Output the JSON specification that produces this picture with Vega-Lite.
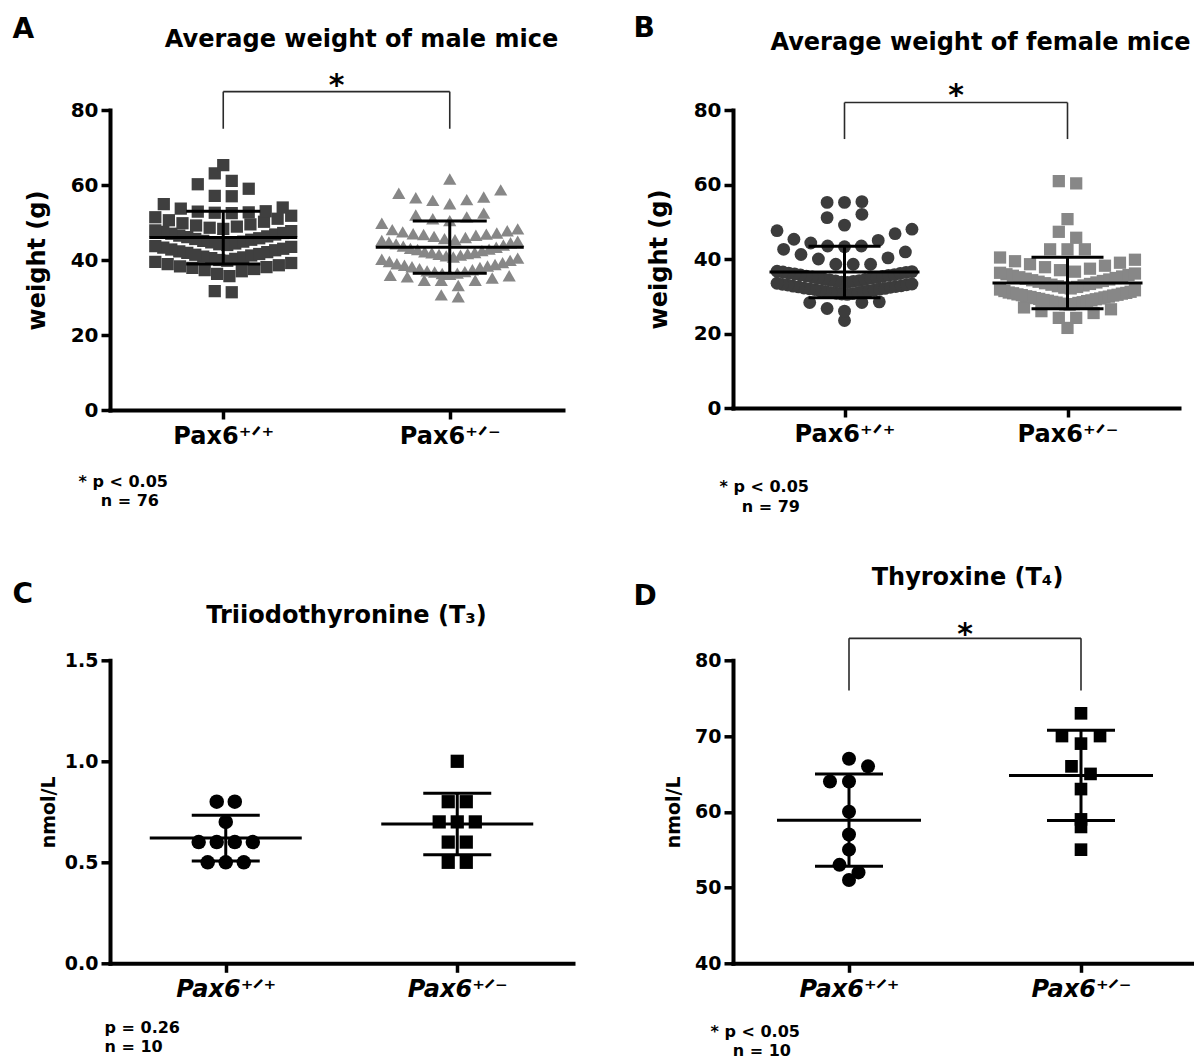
{
  "$schema": "https://vega.github.io/schema/vega-lite/v6.json",
  "background": "white",
  "padding": {"left": 12, "top": 14, "right": 0, "bottom": 0},
  "config": {
    "view": {"stroke": null},
    "font": "DejaVu Sans",
    "axis": {"labelFont": "DejaVu Sans", "titleFont": "DejaVu Sans", "labelColor": "#000", "titleColor": "#000", "domainColor": "#000", "tickColor": "#000", "grid": false, "labelFontWeight": "bold", "titleFontWeight": "bold", "labelFlush": false, "labelBound": false}
  },
  "datasets": {
    "A": [
      {"genotype":"Pax6+/+","value":31.4},{"genotype":"Pax6+/+","value":31.7},{"genotype":"Pax6+/+","value":35.7},{"genotype":"Pax6+/+","value":36.3},
      {"genotype":"Pax6+/+","value":37.0},{"genotype":"Pax6+/+","value":37.3},{"genotype":"Pax6+/+","value":37.6},{"genotype":"Pax6+/+","value":37.9},{"genotype":"Pax6+/+","value":38.1},{"genotype":"Pax6+/+","value":38.3},{"genotype":"Pax6+/+","value":38.6},{"genotype":"Pax6+/+","value":38.9},{"genotype":"Pax6+/+","value":39.2},{"genotype":"Pax6+/+","value":39.5},
      {"genotype":"Pax6+/+","value":39.8},{"genotype":"Pax6+/+","value":40.0},{"genotype":"Pax6+/+","value":40.3},{"genotype":"Pax6+/+","value":40.5},{"genotype":"Pax6+/+","value":40.7},{"genotype":"Pax6+/+","value":40.9},{"genotype":"Pax6+/+","value":41.2},{"genotype":"Pax6+/+","value":41.4},{"genotype":"Pax6+/+","value":41.6},{"genotype":"Pax6+/+","value":41.9},{"genotype":"Pax6+/+","value":42.1},{"genotype":"Pax6+/+","value":42.3},{"genotype":"Pax6+/+","value":42.6},{"genotype":"Pax6+/+","value":42.8},{"genotype":"Pax6+/+","value":43.0},{"genotype":"Pax6+/+","value":43.3},{"genotype":"Pax6+/+","value":43.5},{"genotype":"Pax6+/+","value":43.7},
      {"genotype":"Pax6+/+","value":44.0},{"genotype":"Pax6+/+","value":44.2},{"genotype":"Pax6+/+","value":44.4},{"genotype":"Pax6+/+","value":44.7},{"genotype":"Pax6+/+","value":44.9},{"genotype":"Pax6+/+","value":45.1},{"genotype":"Pax6+/+","value":45.4},{"genotype":"Pax6+/+","value":45.6},{"genotype":"Pax6+/+","value":45.8},{"genotype":"Pax6+/+","value":46.1},{"genotype":"Pax6+/+","value":46.3},{"genotype":"Pax6+/+","value":46.5},{"genotype":"Pax6+/+","value":46.8},{"genotype":"Pax6+/+","value":47.0},{"genotype":"Pax6+/+","value":47.2},{"genotype":"Pax6+/+","value":47.5},{"genotype":"Pax6+/+","value":47.7},{"genotype":"Pax6+/+","value":47.9},
      {"genotype":"Pax6+/+","value":48.3},{"genotype":"Pax6+/+","value":48.6},{"genotype":"Pax6+/+","value":48.9},{"genotype":"Pax6+/+","value":49.2},{"genotype":"Pax6+/+","value":49.5},{"genotype":"Pax6+/+","value":49.8},{"genotype":"Pax6+/+","value":50.2},{"genotype":"Pax6+/+","value":50.6},{"genotype":"Pax6+/+","value":51.0},{"genotype":"Pax6+/+","value":51.4},{"genotype":"Pax6+/+","value":51.8},
      {"genotype":"Pax6+/+","value":52.5},{"genotype":"Pax6+/+","value":52.6},{"genotype":"Pax6+/+","value":52.7},{"genotype":"Pax6+/+","value":52.9},{"genotype":"Pax6+/+","value":53.0},{"genotype":"Pax6+/+","value":53.7},{"genotype":"Pax6+/+","value":54.0},{"genotype":"Pax6+/+","value":54.9},
      {"genotype":"Pax6+/+","value":57.0},{"genotype":"Pax6+/+","value":57.1},{"genotype":"Pax6+/+","value":59.0},{"genotype":"Pax6+/+","value":60.2},{"genotype":"Pax6+/+","value":61.1},{"genotype":"Pax6+/+","value":63.1},{"genotype":"Pax6+/+","value":65.3},
      {"genotype":"Pax6+/-","value":30.2},{"genotype":"Pax6+/-","value":30.7},{"genotype":"Pax6+/-","value":33.2},{"genotype":"Pax6+/-","value":34.6},{"genotype":"Pax6+/-","value":34.6},{"genotype":"Pax6+/-","value":34.6},{"genotype":"Pax6+/-","value":35.2},{"genotype":"Pax6+/-","value":35.8},{"genotype":"Pax6+/-","value":36.4},{"genotype":"Pax6+/-","value":35.5},
      {"genotype":"Pax6+/-","value":35.9},{"genotype":"Pax6+/-","value":36.2},{"genotype":"Pax6+/-","value":36.5},{"genotype":"Pax6+/-","value":36.8},{"genotype":"Pax6+/-","value":37.1},{"genotype":"Pax6+/-","value":37.4},{"genotype":"Pax6+/-","value":37.7},{"genotype":"Pax6+/-","value":38.0},{"genotype":"Pax6+/-","value":38.2},{"genotype":"Pax6+/-","value":38.4},{"genotype":"Pax6+/-","value":38.6},{"genotype":"Pax6+/-","value":38.8},{"genotype":"Pax6+/-","value":36.9},
      {"genotype":"Pax6+/-","value":39.0},{"genotype":"Pax6+/-","value":39.3},{"genotype":"Pax6+/-","value":39.6},{"genotype":"Pax6+/-","value":39.9},{"genotype":"Pax6+/-","value":40.2},{"genotype":"Pax6+/-","value":40.5},{"genotype":"Pax6+/-","value":40.8},{"genotype":"Pax6+/-","value":41.1},{"genotype":"Pax6+/-","value":41.3},{"genotype":"Pax6+/-","value":41.5},{"genotype":"Pax6+/-","value":41.7},{"genotype":"Pax6+/-","value":41.9},{"genotype":"Pax6+/-","value":42.0},
      {"genotype":"Pax6+/-","value":42.2},{"genotype":"Pax6+/-","value":42.5},{"genotype":"Pax6+/-","value":42.8},{"genotype":"Pax6+/-","value":43.1},{"genotype":"Pax6+/-","value":43.4},{"genotype":"Pax6+/-","value":43.7},{"genotype":"Pax6+/-","value":44.0},{"genotype":"Pax6+/-","value":44.3},{"genotype":"Pax6+/-","value":44.6},{"genotype":"Pax6+/-","value":44.8},{"genotype":"Pax6+/-","value":45.0},{"genotype":"Pax6+/-","value":45.2},{"genotype":"Pax6+/-","value":42.9},
      {"genotype":"Pax6+/-","value":45.4},{"genotype":"Pax6+/-","value":45.7},{"genotype":"Pax6+/-","value":46.0},{"genotype":"Pax6+/-","value":46.3},{"genotype":"Pax6+/-","value":46.6},{"genotype":"Pax6+/-","value":46.9},{"genotype":"Pax6+/-","value":47.2},{"genotype":"Pax6+/-","value":47.5},{"genotype":"Pax6+/-","value":47.8},{"genotype":"Pax6+/-","value":48.1},{"genotype":"Pax6+/-","value":48.3},{"genotype":"Pax6+/-","value":46.8},{"genotype":"Pax6+/-","value":47.0},
      {"genotype":"Pax6+/-","value":49.8},{"genotype":"Pax6+/-","value":50.5},{"genotype":"Pax6+/-","value":51.0},{"genotype":"Pax6+/-","value":52.0},{"genotype":"Pax6+/-","value":52.5},{"genotype":"Pax6+/-","value":51.5},
      {"genotype":"Pax6+/-","value":55.0},{"genotype":"Pax6+/-","value":55.9},{"genotype":"Pax6+/-","value":56.1},{"genotype":"Pax6+/-","value":56.6},{"genotype":"Pax6+/-","value":56.8},{"genotype":"Pax6+/-","value":57.8},{"genotype":"Pax6+/-","value":58.7},{"genotype":"Pax6+/-","value":61.6}
    ],
    "B": [
      {"genotype":"Pax6+/+","value":23.5},{"genotype":"Pax6+/+","value":26.0},{"genotype":"Pax6+/+","value":26.7},{"genotype":"Pax6+/+","value":28.3},{"genotype":"Pax6+/+","value":28.3},{"genotype":"Pax6+/+","value":28.5},
      {"genotype":"Pax6+/+","value":30.5},{"genotype":"Pax6+/+","value":30.6},{"genotype":"Pax6+/+","value":30.7},{"genotype":"Pax6+/+","value":30.8},{"genotype":"Pax6+/+","value":30.9},{"genotype":"Pax6+/+","value":31.0},{"genotype":"Pax6+/+","value":31.2},{"genotype":"Pax6+/+","value":31.3},{"genotype":"Pax6+/+","value":31.4},{"genotype":"Pax6+/+","value":31.5},{"genotype":"Pax6+/+","value":31.6},{"genotype":"Pax6+/+","value":31.8},{"genotype":"Pax6+/+","value":31.9},
      {"genotype":"Pax6+/+","value":32.0},{"genotype":"Pax6+/+","value":32.1},{"genotype":"Pax6+/+","value":32.2},{"genotype":"Pax6+/+","value":32.4},{"genotype":"Pax6+/+","value":32.5},{"genotype":"Pax6+/+","value":32.6},{"genotype":"Pax6+/+","value":32.7},{"genotype":"Pax6+/+","value":32.8},{"genotype":"Pax6+/+","value":33.0},{"genotype":"Pax6+/+","value":33.1},{"genotype":"Pax6+/+","value":33.2},{"genotype":"Pax6+/+","value":33.3},{"genotype":"Pax6+/+","value":33.5},
      {"genotype":"Pax6+/+","value":33.7},{"genotype":"Pax6+/+","value":33.8},{"genotype":"Pax6+/+","value":34.0},{"genotype":"Pax6+/+","value":34.1},{"genotype":"Pax6+/+","value":34.2},{"genotype":"Pax6+/+","value":34.4},{"genotype":"Pax6+/+","value":34.5},{"genotype":"Pax6+/+","value":34.6},{"genotype":"Pax6+/+","value":34.8},{"genotype":"Pax6+/+","value":34.9},{"genotype":"Pax6+/+","value":35.0},{"genotype":"Pax6+/+","value":35.2},
      {"genotype":"Pax6+/+","value":35.3},{"genotype":"Pax6+/+","value":35.4},{"genotype":"Pax6+/+","value":35.6},{"genotype":"Pax6+/+","value":35.7},{"genotype":"Pax6+/+","value":35.8},{"genotype":"Pax6+/+","value":36.0},{"genotype":"Pax6+/+","value":36.1},{"genotype":"Pax6+/+","value":36.2},{"genotype":"Pax6+/+","value":36.4},{"genotype":"Pax6+/+","value":36.5},{"genotype":"Pax6+/+","value":36.6},{"genotype":"Pax6+/+","value":36.7},
      {"genotype":"Pax6+/+","value":38.6},{"genotype":"Pax6+/+","value":38.6},{"genotype":"Pax6+/+","value":38.6},{"genotype":"Pax6+/+","value":40.0},{"genotype":"Pax6+/+","value":40.3},{"genotype":"Pax6+/+","value":41.2},{"genotype":"Pax6+/+","value":41.9},{"genotype":"Pax6+/+","value":42.6},{"genotype":"Pax6+/+","value":43.3},{"genotype":"Pax6+/+","value":43.5},{"genotype":"Pax6+/+","value":43.5},{"genotype":"Pax6+/+","value":44.3},
      {"genotype":"Pax6+/+","value":45.0},{"genotype":"Pax6+/+","value":45.3},{"genotype":"Pax6+/+","value":46.8},{"genotype":"Pax6+/+","value":47.6},{"genotype":"Pax6+/+","value":48.0},{"genotype":"Pax6+/+","value":49.1},{"genotype":"Pax6+/+","value":51.1},{"genotype":"Pax6+/+","value":52.0},{"genotype":"Pax6+/+","value":55.2},{"genotype":"Pax6+/+","value":55.2},{"genotype":"Pax6+/+","value":55.4},
      {"genotype":"Pax6+/-","value":21.5},{"genotype":"Pax6+/-","value":24.2},{"genotype":"Pax6+/-","value":24.2},{"genotype":"Pax6+/-","value":25.5},{"genotype":"Pax6+/-","value":26.0},{"genotype":"Pax6+/-","value":26.5},{"genotype":"Pax6+/-","value":27.0},
      {"genotype":"Pax6+/-","value":27.7},{"genotype":"Pax6+/-","value":27.8},{"genotype":"Pax6+/-","value":27.9},{"genotype":"Pax6+/-","value":28.0},{"genotype":"Pax6+/-","value":28.2},{"genotype":"Pax6+/-","value":28.3},{"genotype":"Pax6+/-","value":28.4},{"genotype":"Pax6+/-","value":28.5},{"genotype":"Pax6+/-","value":28.7},{"genotype":"Pax6+/-","value":28.8},{"genotype":"Pax6+/-","value":28.9},{"genotype":"Pax6+/-","value":29.0},{"genotype":"Pax6+/-","value":29.2},{"genotype":"Pax6+/-","value":29.3},{"genotype":"Pax6+/-","value":29.4},{"genotype":"Pax6+/-","value":29.5},
      {"genotype":"Pax6+/-","value":29.7},{"genotype":"Pax6+/-","value":29.8},{"genotype":"Pax6+/-","value":29.9},{"genotype":"Pax6+/-","value":30.0},{"genotype":"Pax6+/-","value":30.2},{"genotype":"Pax6+/-","value":30.3},{"genotype":"Pax6+/-","value":30.4},{"genotype":"Pax6+/-","value":30.5},{"genotype":"Pax6+/-","value":30.7},{"genotype":"Pax6+/-","value":30.8},{"genotype":"Pax6+/-","value":30.9},{"genotype":"Pax6+/-","value":31.0},{"genotype":"Pax6+/-","value":31.2},{"genotype":"Pax6+/-","value":31.4},{"genotype":"Pax6+/-","value":31.6},{"genotype":"Pax6+/-","value":31.8},
      {"genotype":"Pax6+/-","value":32.1},{"genotype":"Pax6+/-","value":32.3},{"genotype":"Pax6+/-","value":32.5},{"genotype":"Pax6+/-","value":32.7},{"genotype":"Pax6+/-","value":32.9},{"genotype":"Pax6+/-","value":33.1},{"genotype":"Pax6+/-","value":33.3},{"genotype":"Pax6+/-","value":33.5},{"genotype":"Pax6+/-","value":33.7},{"genotype":"Pax6+/-","value":33.9},{"genotype":"Pax6+/-","value":34.1},
      {"genotype":"Pax6+/-","value":34.3},{"genotype":"Pax6+/-","value":34.5},{"genotype":"Pax6+/-","value":34.7},{"genotype":"Pax6+/-","value":34.9},{"genotype":"Pax6+/-","value":35.1},{"genotype":"Pax6+/-","value":35.3},{"genotype":"Pax6+/-","value":35.5},{"genotype":"Pax6+/-","value":35.7},{"genotype":"Pax6+/-","value":35.9},{"genotype":"Pax6+/-","value":36.1},{"genotype":"Pax6+/-","value":36.3},
      {"genotype":"Pax6+/-","value":36.6},{"genotype":"Pax6+/-","value":37.0},{"genotype":"Pax6+/-","value":37.4},{"genotype":"Pax6+/-","value":37.8},{"genotype":"Pax6+/-","value":38.2},{"genotype":"Pax6+/-","value":38.6},{"genotype":"Pax6+/-","value":39.0},{"genotype":"Pax6+/-","value":39.4},{"genotype":"Pax6+/-","value":39.8},{"genotype":"Pax6+/-","value":40.4},
      {"genotype":"Pax6+/-","value":42.6},{"genotype":"Pax6+/-","value":42.6},{"genotype":"Pax6+/-","value":42.6},{"genotype":"Pax6+/-","value":45.7},{"genotype":"Pax6+/-","value":47.3},{"genotype":"Pax6+/-","value":50.7},{"genotype":"Pax6+/-","value":60.3},{"genotype":"Pax6+/-","value":60.9}
    ],
    "C": [
      {"genotype":"Pax6+/+","value":0.8},{"genotype":"Pax6+/+","value":0.8},{"genotype":"Pax6+/+","value":0.7},{"genotype":"Pax6+/+","value":0.6},{"genotype":"Pax6+/+","value":0.6},{"genotype":"Pax6+/+","value":0.6},{"genotype":"Pax6+/+","value":0.6},{"genotype":"Pax6+/+","value":0.5},{"genotype":"Pax6+/+","value":0.5},{"genotype":"Pax6+/+","value":0.5},
      {"genotype":"Pax6+/-","value":1.0},{"genotype":"Pax6+/-","value":0.8},{"genotype":"Pax6+/-","value":0.8},{"genotype":"Pax6+/-","value":0.7},{"genotype":"Pax6+/-","value":0.7},{"genotype":"Pax6+/-","value":0.7},{"genotype":"Pax6+/-","value":0.6},{"genotype":"Pax6+/-","value":0.6},{"genotype":"Pax6+/-","value":0.5},{"genotype":"Pax6+/-","value":0.5}
    ],
    "D": [
      {"genotype":"Pax6+/+","value":67},{"genotype":"Pax6+/+","value":66},{"genotype":"Pax6+/+","value":64},{"genotype":"Pax6+/+","value":64},{"genotype":"Pax6+/+","value":60},{"genotype":"Pax6+/+","value":57},{"genotype":"Pax6+/+","value":55},{"genotype":"Pax6+/+","value":53},{"genotype":"Pax6+/+","value":52},{"genotype":"Pax6+/+","value":51},
      {"genotype":"Pax6+/-","value":73},{"genotype":"Pax6+/-","value":70},{"genotype":"Pax6+/-","value":70},{"genotype":"Pax6+/-","value":69},{"genotype":"Pax6+/-","value":66},{"genotype":"Pax6+/-","value":65},{"genotype":"Pax6+/-","value":63},{"genotype":"Pax6+/-","value":59},{"genotype":"Pax6+/-","value":58},{"genotype":"Pax6+/-","value":55}
    ]
  },
  "columns": 2,
  "spacing": {"row": 250.3, "column": 160},
  "bounds": "flush",
  "resolve": {"scale": {"shape": "independent", "color": "independent", "size": "independent"}},
  "concat": [
    {
      "width": 453, "height": 300,
      "data": {"name": "A"},
      "layer": [
        {
          "transform": [
            {"calculate": "datum.genotype === 'Pax6+/+' ? 1 : 2", "as": "g"},
            {"calculate": "round((datum.value + (datum.g === 1 ? 0.2 : -1.7)) / (datum.g === 1 ? 4.2 : 4.6))", "as": "row"},
            {"joinaggregate": [{"op": "count", "as": "n"}], "groupby": ["g", "row"]},
            {"window": [{"op": "row_number", "as": "r"}], "sort": [{"field": "value", "order": "ascending"}], "groupby": ["g", "row"]},
            {"calculate": "(datum.r % 2 === 0 ? -1 : 1) * (datum.n % 2 === 1 ? floor(datum.r / 2) : floor((datum.r - 1) / 2) + 0.5)", "as": "slot"},
            {"calculate": "datum.g + datum.slot * (datum.n > 1 ? min(0.075, 0.6 / (datum.n - 1)) : 0)", "as": "xpos"}
          ],
          "mark": {"type": "point", "filled": true, "opacity": 1, "strokeWidth": 0},
          "encoding": {
            "x": {"field": "xpos", "type": "quantitative", "scale": {"domain": [0.5, 2.5], "nice": false, "zero": false},
              "axis": {"orient": "bottom", "values": [1, 2], "labelExpr": "datum.value === 1 ? 'Pax6⁺ᐟ⁺' : 'Pax6⁺ᐟ⁻'", "labelFontSize": 24, "labelPadding": 5, "tickSize": 9, "tickWidth": 3.5, "domainWidth": 4, "domainCap": "square",
                "title": ["* p < 0.05", "\u200b\u00a0\u00a0\u00a0\u00a0n = 76"], "titleFontSize": 16, "titleAlign": "left", "titleBaseline": "alphabetic", "titleX": -32, "titleY": 76, "titleLineHeight": 19}},
            "y": {"field": "value", "type": "quantitative", "scale": {"domain": [0, 80], "nice": false, "zero": false},
              "axis": {"orient": "left", "values": [0, 20, 40, 60, 80], "labelFontSize": 20, "labelPadding": 3, "tickSize": 9, "tickWidth": 3.5, "domainWidth": 4, "domainCap": "square",
                "title": "weight (g)", "titleFontSize": 24, "titleAngle": 270, "titleAlign": "center", "titleBaseline": "bottom", "titleX": -61, "titleY": 150}},
            "shape": {"field": "genotype", "type": "nominal", "scale": {"domain": ["Pax6+/+", "Pax6+/-"], "range": ["square", "triangle-up"]}, "legend": null},
            "color": {"field": "genotype", "type": "nominal", "scale": {"domain": ["Pax6+/+", "Pax6+/-"], "range": ["#3f3f3f", "#878787"]}, "legend": null},
            "size": {"field": "genotype", "type": "nominal", "scale": {"domain": ["Pax6+/+", "Pax6+/-"], "range": [150, 175]}, "legend": null}
          }
        },
        {
          "layer": [
            {
              "transform": [
                {"aggregate": [{"op": "mean", "field": "value", "as": "m"}, {"op": "stdev", "field": "value", "as": "sd"}], "groupby": ["genotype"]},
                {"calculate": "datum.genotype === 'Pax6+/+' ? 1 : 2", "as": "g"},
                {"calculate": "datum.m - datum.sd", "as": "lo"},
                {"calculate": "datum.m + datum.sd", "as": "hi"}
              ],
              "layer": [
                {"mark": {"type": "rule", "strokeWidth": 3, "color": "black"},
                  "encoding": {
                    "x": {"field": "g", "type": "quantitative", "scale": {"domain": [0.5, 2.5], "nice": false, "zero": false},
                      "axis": {"orient": "top", "domain": false, "ticks": false, "labels": false, "title": "Average weight of male mice", "titleFontSize": 24, "titleAlign": "center", "titleBaseline": "alphabetic", "titleX": 251, "titleY": -63.7}},
                    "y": {"field": "lo", "type": "quantitative", "scale": {"domain": [0, 80], "nice": false, "zero": false},
                      "axis": {"orient": "right", "domain": false, "ticks": false, "labels": false, "title": "A", "titleFontSize": 28, "titleAngle": 0, "titleAlign": "left", "titleBaseline": "alphabetic", "titleX": -551, "titleY": -72.7}},
                    "y2": {"field": "hi"}
                  }},
                {"mark": {"type": "tick", "orient": "horizontal", "size": 148, "thickness": 3, "color": "black", "opacity": 1},
                  "encoding": {"x": {"field": "g", "type": "quantitative"}, "y": {"field": "m", "type": "quantitative"}}},
                {"mark": {"type": "tick", "orient": "horizontal", "size": 74, "thickness": 3, "color": "black", "opacity": 1},
                  "encoding": {"x": {"field": "g", "type": "quantitative"}, "y": {"field": "lo", "type": "quantitative"}}},
                {"mark": {"type": "tick", "orient": "horizontal", "size": 74, "thickness": 3, "color": "black", "opacity": 1},
                  "encoding": {"x": {"field": "g", "type": "quantitative"}, "y": {"field": "hi", "type": "quantitative"}}}
              ]
            },
            {"data": {"values": [{}]}, "mark": {"type": "rule", "strokeWidth": 1.6, "color": "#2a2a2a"},
              "encoding": {"x": {"datum": 1, "type": "quantitative"}, "x2": {"datum": 2}, "y": {"datum": 84.9, "type": "quantitative"}}},
            {"data": {"values": [{}]}, "mark": {"type": "rule", "strokeWidth": 1.6, "color": "#2a2a2a"},
              "encoding": {"x": {"datum": 1, "type": "quantitative"}, "y": {"datum": 75.0, "type": "quantitative"}, "y2": {"datum": 84.9}}},
            {"data": {"values": [{}]}, "mark": {"type": "rule", "strokeWidth": 1.6, "color": "#2a2a2a"},
              "encoding": {"x": {"datum": 2, "type": "quantitative"}, "y": {"datum": 75.0, "type": "quantitative"}, "y2": {"datum": 84.9}}},
            {"data": {"values": [{}]}, "mark": {"type": "text", "text": "*", "font": "DejaVu Sans", "fontSize": 30, "fontWeight": "bold", "align": "center", "baseline": "alphabetic", "color": "black"},
              "encoding": {"x": {"datum": 1.5, "type": "quantitative"}, "y": {"datum": 84.0, "type": "quantitative"}}}
          ]
        }
      ],
      "resolve": {"scale": {"x": "independent", "y": "independent"}}
    },
    {
      "width": 446, "height": 298,
      "data": {"name": "B"},
      "layer": [
        {
          "transform": [
            {"calculate": "datum.genotype === 'Pax6+/+' ? 1 : 2", "as": "g"},
            {"calculate": "round((datum.value + (datum.g === 1 ? 2.3 : 1)) / (datum.g === 1 ? 4.8 : 4.4))", "as": "row"},
            {"joinaggregate": [{"op": "count", "as": "n"}], "groupby": ["g", "row"]},
            {"window": [{"op": "row_number", "as": "r"}], "sort": [{"field": "value", "order": "ascending"}], "groupby": ["g", "row"]},
            {"calculate": "(datum.r % 2 === 0 ? -1 : 1) * (datum.n % 2 === 1 ? floor(datum.r / 2) : floor((datum.r - 1) / 2) + 0.5)", "as": "slot"},
            {"calculate": "datum.g + datum.slot * (datum.n > 1 ? min(0.078, 0.605 / (datum.n - 1)) : 0)", "as": "xpos"}
          ],
          "mark": {"type": "point", "filled": true, "opacity": 1, "strokeWidth": 0},
          "encoding": {
            "x": {"field": "xpos", "type": "quantitative", "scale": {"domain": [0.5, 2.5], "nice": false, "zero": false},
              "axis": {"orient": "bottom", "values": [1, 2], "labelExpr": "datum.value === 1 ? 'Pax6⁺ᐟ⁺' : 'Pax6⁺ᐟ⁻'", "labelFontSize": 24, "labelPadding": 5, "tickSize": 9, "tickWidth": 3.5, "domainWidth": 4, "domainCap": "square",
                "title": ["* p < 0.05", "\u200b\u00a0\u00a0\u00a0\u00a0n = 79"], "titleFontSize": 16, "titleAlign": "left", "titleBaseline": "alphabetic", "titleX": -14, "titleY": 83.3, "titleLineHeight": 20}},
            "y": {"field": "value", "type": "quantitative", "scale": {"domain": [0, 80], "nice": false, "zero": false},
              "axis": {"orient": "left", "values": [0, 20, 40, 60, 80], "labelFontSize": 20, "labelPadding": 3, "tickSize": 9, "tickWidth": 3.5, "domainWidth": 4, "domainCap": "square",
                "title": "weight (g)", "titleFontSize": 24, "titleAngle": 270, "titleAlign": "center", "titleBaseline": "bottom", "titleX": -62, "titleY": 149}},
            "shape": {"field": "genotype", "type": "nominal", "scale": {"domain": ["Pax6+/+", "Pax6+/-"], "range": ["circle", "square"]}, "legend": null},
            "color": {"field": "genotype", "type": "nominal", "scale": {"domain": ["Pax6+/+", "Pax6+/-"], "range": ["#3c3c3c", "#878787"]}, "legend": null},
            "size": {"field": "genotype", "type": "nominal", "scale": {"domain": ["Pax6+/+", "Pax6+/-"], "range": [165, 150]}, "legend": null}
          }
        },
        {
          "layer": [
            {
              "transform": [
                {"aggregate": [{"op": "mean", "field": "value", "as": "m"}, {"op": "stdev", "field": "value", "as": "sd"}], "groupby": ["genotype"]},
                {"calculate": "datum.genotype === 'Pax6+/+' ? 1 : 2", "as": "g"},
                {"calculate": "datum.m - datum.sd", "as": "lo"},
                {"calculate": "datum.m + datum.sd", "as": "hi"}
              ],
              "layer": [
                {"mark": {"type": "rule", "strokeWidth": 3, "color": "black"},
                  "encoding": {
                    "x": {"field": "g", "type": "quantitative", "scale": {"domain": [0.5, 2.5], "nice": false, "zero": false},
                      "axis": {"orient": "top", "domain": false, "ticks": false, "labels": false, "title": "Average weight of female mice", "titleFontSize": 24, "titleAlign": "center", "titleBaseline": "alphabetic", "titleX": 247, "titleY": -60.7}},
                    "y": {"field": "lo", "type": "quantitative", "scale": {"domain": [0, 80], "nice": false, "zero": false},
                      "axis": {"orient": "right", "domain": false, "ticks": false, "labels": false, "title": "B", "titleFontSize": 28, "titleAngle": 0, "titleAlign": "left", "titleBaseline": "alphabetic", "titleX": -546, "titleY": -73.7}},
                    "y2": {"field": "hi"}
                  }},
                {"mark": {"type": "tick", "orient": "horizontal", "size": 150, "thickness": 3, "color": "black", "opacity": 1},
                  "encoding": {"x": {"field": "g", "type": "quantitative"}, "y": {"field": "m", "type": "quantitative"}}},
                {"mark": {"type": "tick", "orient": "horizontal", "size": 72, "thickness": 3, "color": "black", "opacity": 1},
                  "encoding": {"x": {"field": "g", "type": "quantitative"}, "y": {"field": "lo", "type": "quantitative"}}},
                {"mark": {"type": "tick", "orient": "horizontal", "size": 72, "thickness": 3, "color": "black", "opacity": 1},
                  "encoding": {"x": {"field": "g", "type": "quantitative"}, "y": {"field": "hi", "type": "quantitative"}}}
              ]
            },
            {"data": {"values": [{}]}, "mark": {"type": "rule", "strokeWidth": 1.6, "color": "#2a2a2a"},
              "encoding": {"x": {"datum": 1, "type": "quantitative"}, "x2": {"datum": 2}, "y": {"datum": 82.0, "type": "quantitative"}}},
            {"data": {"values": [{}]}, "mark": {"type": "rule", "strokeWidth": 1.6, "color": "#2a2a2a"},
              "encoding": {"x": {"datum": 1, "type": "quantitative"}, "y": {"datum": 72.2, "type": "quantitative"}, "y2": {"datum": 82.0}}},
            {"data": {"values": [{}]}, "mark": {"type": "rule", "strokeWidth": 1.6, "color": "#2a2a2a"},
              "encoding": {"x": {"datum": 2, "type": "quantitative"}, "y": {"datum": 72.2, "type": "quantitative"}, "y2": {"datum": 82.0}}},
            {"data": {"values": [{}]}, "mark": {"type": "text", "text": "*", "font": "DejaVu Sans", "fontSize": 30, "fontWeight": "bold", "align": "center", "baseline": "alphabetic", "color": "black"},
              "encoding": {"x": {"datum": 1.5, "type": "quantitative"}, "y": {"datum": 81.3, "type": "quantitative"}}}
          ]
        }
      ],
      "resolve": {"scale": {"x": "independent", "y": "independent"}}
    },
    {
      "width": 463, "height": 303,
      "data": {"name": "C"},
      "layer": [
        {
          "transform": [
            {"calculate": "datum.genotype === 'Pax6+/+' ? 1 : 2", "as": "g"},
            {"calculate": "round(datum.value / 0.05)", "as": "row"},
            {"joinaggregate": [{"op": "count", "as": "n"}], "groupby": ["g", "row"]},
            {"window": [{"op": "row_number", "as": "r"}], "sort": [{"field": "value", "order": "ascending"}], "groupby": ["g", "row"]},
            {"calculate": "(datum.r % 2 === 0 ? -1 : 1) * (datum.n % 2 === 1 ? floor(datum.r / 2) : floor((datum.r - 1) / 2) + 0.5)", "as": "slot"},
            {"calculate": "datum.g + datum.slot * (datum.n > 1 ? min(0.078, 0.6 / (datum.n - 1)) : 0)", "as": "xpos"}
          ],
          "mark": {"type": "point", "filled": true, "opacity": 1, "strokeWidth": 0, "color": "black"},
          "encoding": {
            "x": {"field": "xpos", "type": "quantitative", "scale": {"domain": [0.5, 2.5], "nice": false, "zero": false},
              "axis": {"orient": "bottom", "values": [1, 2], "labelExpr": "datum.value === 1 ? 'Pax6⁺ᐟ⁺' : 'Pax6⁺ᐟ⁻'", "labelFontSize": 24, "labelFontStyle": "italic", "labelPadding": 5, "tickSize": 9, "tickWidth": 3.5, "domainWidth": 4, "domainCap": "square",
                "title": ["p = 0.26", "n = 10"], "titleFontSize": 16, "titleAlign": "left", "titleBaseline": "alphabetic", "titleX": -6, "titleY": 69, "titleLineHeight": 19}},
            "y": {"field": "value", "type": "quantitative", "scale": {"domain": [0, 1.5], "nice": false, "zero": false},
              "axis": {"orient": "left", "values": [0, 0.5, 1, 1.5], "format": ".1f", "labelFontSize": 19, "labelPadding": 3, "tickSize": 9, "tickWidth": 3.5, "domainWidth": 4, "domainCap": "square",
                "title": "nmol/L", "titleFontSize": 19, "titleAngle": 270, "titleAlign": "center", "titleBaseline": "bottom", "titleX": -52, "titleY": 151.5}},
            "shape": {"field": "genotype", "type": "nominal", "scale": {"domain": ["Pax6+/+", "Pax6+/-"], "range": ["circle", "square"]}, "legend": null},
            "size": {"field": "genotype", "type": "nominal", "scale": {"domain": ["Pax6+/+", "Pax6+/-"], "range": [210, 175]}, "legend": null}
          }
        },
        {
          "layer": [
            {
              "transform": [
                {"aggregate": [{"op": "mean", "field": "value", "as": "m"}, {"op": "stdev", "field": "value", "as": "sd"}], "groupby": ["genotype"]},
                {"calculate": "datum.genotype === 'Pax6+/+' ? 1 : 2", "as": "g"},
                {"calculate": "datum.m - datum.sd", "as": "lo"},
                {"calculate": "datum.m + datum.sd", "as": "hi"}
              ],
              "layer": [
                {"mark": {"type": "rule", "strokeWidth": 3, "color": "black"},
                  "encoding": {
                    "x": {"field": "g", "type": "quantitative", "scale": {"domain": [0.5, 2.5], "nice": false, "zero": false},
                      "axis": {"orient": "top", "domain": false, "ticks": false, "labels": false, "title": "Triiodothyronine (T₃)", "titleFontSize": 24, "titleAlign": "center", "titleBaseline": "alphabetic", "titleX": 236, "titleY": -38}},
                    "y": {"field": "lo", "type": "quantitative", "scale": {"domain": [0, 1.5], "nice": false, "zero": false},
                      "axis": {"orient": "right", "domain": false, "ticks": false, "labels": false, "title": "C", "titleFontSize": 28, "titleAngle": 0, "titleAlign": "left", "titleBaseline": "alphabetic", "titleX": -561, "titleY": -58}},
                    "y2": {"field": "hi"}
                  }},
                {"mark": {"type": "tick", "orient": "horizontal", "size": 152, "thickness": 3, "color": "black", "opacity": 1},
                  "encoding": {"x": {"field": "g", "type": "quantitative"}, "y": {"field": "m", "type": "quantitative"}}},
                {"mark": {"type": "tick", "orient": "horizontal", "size": 68, "thickness": 3, "color": "black", "opacity": 1},
                  "encoding": {"x": {"field": "g", "type": "quantitative"}, "y": {"field": "lo", "type": "quantitative"}}},
                {"mark": {"type": "tick", "orient": "horizontal", "size": 68, "thickness": 3, "color": "black", "opacity": 1},
                  "encoding": {"x": {"field": "g", "type": "quantitative"}, "y": {"field": "hi", "type": "quantitative"}}}
              ]
            }
          ]
        }
      ],
      "resolve": {"scale": {"x": "independent", "y": "independent"}}
    },
    {
      "width": 464, "height": 303,
      "data": {"name": "D"},
      "layer": [
        {
          "transform": [
            {"calculate": "datum.genotype === 'Pax6+/+' ? 1 : 2", "as": "g"},
            {"calculate": "round(datum.value / 2.5)", "as": "row"},
            {"joinaggregate": [{"op": "count", "as": "n"}], "groupby": ["g", "row"]},
            {"window": [{"op": "row_number", "as": "r"}], "sort": [{"field": "value", "order": "ascending"}], "groupby": ["g", "row"]},
            {"calculate": "(datum.r % 2 === 0 ? -1 : 1) * (datum.n % 2 === 1 ? floor(datum.r / 2) : floor((datum.r - 1) / 2) + 0.5)", "as": "slot"},
            {"calculate": "datum.g + datum.slot * (datum.n > 1 ? min(0.082, 0.6 / (datum.n - 1)) : 0)", "as": "xpos"}
          ],
          "mark": {"type": "point", "filled": true, "opacity": 1, "strokeWidth": 0, "color": "black"},
          "encoding": {
            "x": {"field": "xpos", "type": "quantitative", "scale": {"domain": [0.5, 2.5], "nice": false, "zero": false},
              "axis": {"orient": "bottom", "values": [1, 2], "labelExpr": "datum.value === 1 ? 'Pax6⁺ᐟ⁺' : 'Pax6⁺ᐟ⁻'", "labelFontSize": 24, "labelFontStyle": "italic", "labelPadding": 5, "tickSize": 9, "tickWidth": 3.5, "domainWidth": 4, "domainCap": "square",
                "title": ["* p < 0.05", "\u200b\u00a0\u00a0\u00a0\u00a0n = 10"], "titleFontSize": 16, "titleAlign": "left", "titleBaseline": "alphabetic", "titleX": -23, "titleY": 72.7, "titleLineHeight": 19}},
            "y": {"field": "value", "type": "quantitative", "scale": {"domain": [40, 80], "nice": false, "zero": false},
              "axis": {"orient": "left", "values": [40, 50, 60, 70, 80], "labelFontSize": 19, "labelPadding": 3, "tickSize": 9, "tickWidth": 3.5, "domainWidth": 4, "domainCap": "square",
                "title": "nmol/L", "titleFontSize": 19, "titleAngle": 270, "titleAlign": "center", "titleBaseline": "bottom", "titleX": -50, "titleY": 151.5}},
            "shape": {"field": "genotype", "type": "nominal", "scale": {"domain": ["Pax6+/+", "Pax6+/-"], "range": ["circle", "square"]}, "legend": null},
            "size": {"field": "genotype", "type": "nominal", "scale": {"domain": ["Pax6+/+", "Pax6+/-"], "range": [196, 160]}, "legend": null}
          }
        },
        {
          "layer": [
            {
              "transform": [
                {"aggregate": [{"op": "mean", "field": "value", "as": "m"}, {"op": "stdev", "field": "value", "as": "sd"}], "groupby": ["genotype"]},
                {"calculate": "datum.genotype === 'Pax6+/+' ? 1 : 2", "as": "g"},
                {"calculate": "datum.m - datum.sd", "as": "lo"},
                {"calculate": "datum.m + datum.sd", "as": "hi"}
              ],
              "layer": [
                {"mark": {"type": "rule", "strokeWidth": 3, "color": "black"},
                  "encoding": {
                    "x": {"field": "g", "type": "quantitative", "scale": {"domain": [0.5, 2.5], "nice": false, "zero": false},
                      "axis": {"orient": "top", "domain": false, "ticks": false, "labels": false, "title": "Thyroxine (T₄)", "titleFontSize": 24, "titleAlign": "center", "titleBaseline": "alphabetic", "titleX": 234, "titleY": -76}},
                    "y": {"field": "lo", "type": "quantitative", "scale": {"domain": [40, 80], "nice": false, "zero": false},
                      "axis": {"orient": "right", "domain": false, "ticks": false, "labels": false, "title": "D", "titleFontSize": 28, "titleAngle": 0, "titleAlign": "left", "titleBaseline": "alphabetic", "titleX": -564, "titleY": -56}},
                    "y2": {"field": "hi"}
                  }},
                {"mark": {"type": "tick", "orient": "horizontal", "size": 144, "thickness": 3, "color": "black", "opacity": 1},
                  "encoding": {"x": {"field": "g", "type": "quantitative"}, "y": {"field": "m", "type": "quantitative"}}},
                {"mark": {"type": "tick", "orient": "horizontal", "size": 68, "thickness": 3, "color": "black", "opacity": 1},
                  "encoding": {"x": {"field": "g", "type": "quantitative"}, "y": {"field": "lo", "type": "quantitative"}}},
                {"mark": {"type": "tick", "orient": "horizontal", "size": 68, "thickness": 3, "color": "black", "opacity": 1},
                  "encoding": {"x": {"field": "g", "type": "quantitative"}, "y": {"field": "hi", "type": "quantitative"}}}
              ]
            },
            {"data": {"values": [{}]}, "mark": {"type": "rule", "strokeWidth": 1.6, "color": "#2a2a2a"},
              "encoding": {"x": {"datum": 1, "type": "quantitative"}, "x2": {"datum": 2}, "y": {"datum": 82.9, "type": "quantitative"}}},
            {"data": {"values": [{}]}, "mark": {"type": "rule", "strokeWidth": 1.6, "color": "#2a2a2a"},
              "encoding": {"x": {"datum": 1, "type": "quantitative"}, "y": {"datum": 76.0, "type": "quantitative"}, "y2": {"datum": 82.9}}},
            {"data": {"values": [{}]}, "mark": {"type": "rule", "strokeWidth": 1.6, "color": "#2a2a2a"},
              "encoding": {"x": {"datum": 2, "type": "quantitative"}, "y": {"datum": 76.0, "type": "quantitative"}, "y2": {"datum": 82.9}}},
            {"data": {"values": [{}]}, "mark": {"type": "text", "text": "*", "font": "DejaVu Sans", "fontSize": 30, "fontWeight": "bold", "align": "center", "baseline": "alphabetic", "color": "black"},
              "encoding": {"x": {"datum": 1.5, "type": "quantitative"}, "y": {"datum": 82.2, "type": "quantitative"}}}
          ]
        }
      ],
      "resolve": {"scale": {"x": "independent", "y": "independent"}}
    }
  ]
}
